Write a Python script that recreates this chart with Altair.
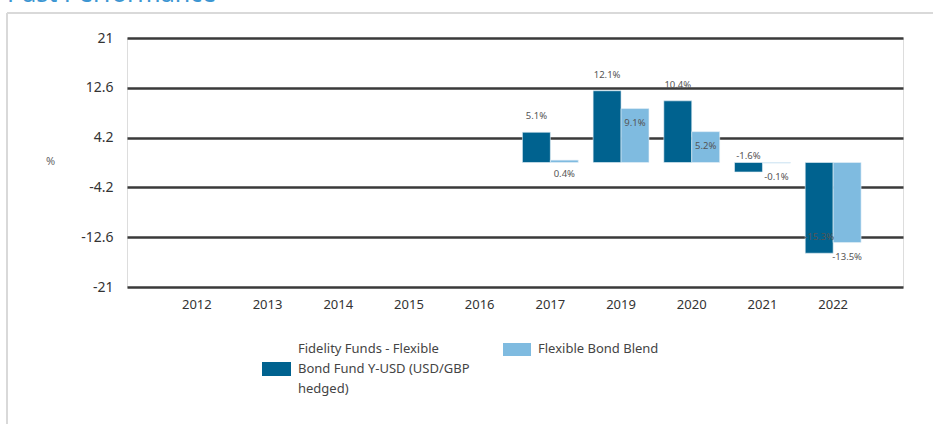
import altair as alt
import pandas as pd

YEARS = ["2012", "2013", "2014", "2015", "2016", "2017", "2019", "2020", "2021", "2022"]
SERIES = ["Fidelity Funds - Flexible Bond Fund Y-USD (USD/GBP hedged)", "Flexible Bond Blend"]
FUND_LEGEND_LINES = ["Fidelity Funds - Flexible", "Bond Fund Y-USD (USD/GBP", "hedged)"]
FUND = [None, None, None, None, None, 5.1, 12.1, 10.4, -1.6, -15.3]
BLEND = [None, None, None, None, None, 0.4, 9.1, 5.2, -0.1, -13.5]
Y_TICKS = [21, 12.6, 4.2, -4.2, -12.6, -21]
COLORS = ["#00628f", "#7fbbe0"]

rows = []
for y, f, b in zip(YEARS, FUND, BLEND):
    if f is not None:
        rows.append({"year": y, "series": SERIES[0], "value": f, "idx": 0})
    if b is not None:
        rows.append({"year": y, "series": SERIES[1], "value": b, "idx": 1})
df = pd.DataFrame(rows)

W, H = 776, 249
FONT = "Noto Sans"

x_enc = alt.X("year:N", scale=alt.Scale(domain=YEARS, paddingInner=0.21, paddingOuter=0.593),
              axis=alt.Axis(title=None, labelAngle=0, domain=False, ticks=False, labelPadding=11,
                            labelFontSize=13, labelColor="#333333", labelFont=FONT, grid=False))
y_enc = alt.Y("value:Q", scale=alt.Scale(domain=[-21, 21], nice=False, zero=False),
              axis=alt.Axis(title="%", values=Y_TICKS, labelExpr="'' + datum.value", domain=False,
                            ticks=False, labelPadding=14, labelFontSize=14, labelColor="#333333",
                            labelFont=FONT, grid=True, gridColor="#3a3a3a", gridWidth=2.5,
                            titleAngle=0, titleX=-77, titleY=123, titleAlign="center",
                            titleBaseline="middle", titleFontSize=11, titleFontWeight="normal",
                            titleColor="#666666", titleFont=FONT))
off = alt.XOffset("series:N", scale=alt.Scale(domain=SERIES, paddingInner=0, paddingOuter=0))

bars = alt.Chart(df).mark_bar(stroke="#e6f0f6", strokeWidth=0.6).encode(
    x=x_enc, y=y_enc, y2=alt.datum(0), xOffset=off,
    color=alt.Color("series:N", scale=alt.Scale(domain=SERIES, range=COLORS), legend=None),
)

LBL = "'' + datum.value + '%'"
lab_fund = alt.Chart(df[df.idx == 0]).mark_text(fontSize=9.5, color="#555555", dy=-16, font=FONT).encode(
    x=alt.X("year:N", scale=alt.Scale(domain=YEARS)), xOffset=off, y="value:Q",
).transform_calculate(lbl=LBL).encode(text="lbl:N")

lab_blend = alt.Chart(df[df.idx == 1]).mark_text(fontSize=9.5, color="#555555", dy=14, font=FONT).encode(
    x=alt.X("year:N", scale=alt.Scale(domain=YEARS)), xOffset=off, y="value:Q",
).transform_calculate(lbl=LBL).encode(text="lbl:N")

deco = pd.DataFrame({"k": [0]})
border_top = alt.Chart(deco).mark_rule(color="#d9d9d9", strokeWidth=2).encode(
    x=alt.value(-120), x2=alt.value(810), y=alt.value(-25))
border_left = alt.Chart(deco).mark_rule(color="#d9d9d9", strokeWidth=2).encode(
    x=alt.value(-120), y=alt.value(-25), y2=alt.value(390))
title = alt.Chart(deco).mark_text(text="Past Performance", fontSize=25, color="#3d96d2",
                                  align="left", baseline="alphabetic", font=FONT).encode(
    x=alt.value(-120), y=alt.value(-36))

# legend
leg_sw1 = alt.Chart(deco).mark_rect(color=COLORS[0]).encode(
    x=alt.value(135), x2=alt.value(164), y=alt.value(324), y2=alt.value(338))
leg_sw2 = alt.Chart(deco).mark_rect(color=COLORS[1]).encode(
    x=alt.value(376), x2=alt.value(404), y=alt.value(305), y2=alt.value(318))
leg_t1 = alt.Chart(deco).mark_text(text=FUND_LEGEND_LINES, lineHeight=20, fontSize=13,
                                   color="#444444", align="left", baseline="middle", font=FONT).encode(
    x=alt.value(171), y=alt.value(311))
leg_t2 = alt.Chart(deco).mark_text(text=SERIES[1], fontSize=13,
                                   color="#444444", align="left", baseline="middle", font=FONT).encode(
    x=alt.value(411), y=alt.value(311))

chart = alt.layer(border_top, border_left, title, bars, lab_fund, lab_blend,
                  leg_sw1, leg_sw2, leg_t1, leg_t2).properties(
    width=W, height=H,
    autosize=alt.AutoSizeParams(type="none"),
    padding={"left": 127, "top": 38, "right": 30, "bottom": 137},
).configure_view(stroke=None).configure(background="white")

chart.save("out.html", embed_options={"renderer": "svg", "actions": False})
